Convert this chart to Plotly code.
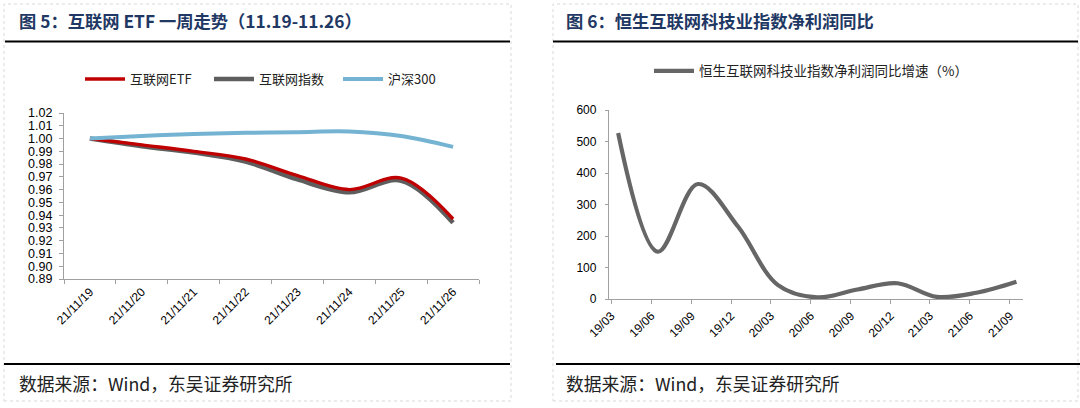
import plotly.graph_objects as go

# ---------------- data ----------------
week_days = ["21/11/19", "21/11/20", "21/11/21", "21/11/22", "21/11/23", "21/11/24", "21/11/25", "21/11/26"]
etf_values = [1.000, 0.995, 0.990, 0.984, 0.971, 0.960, 0.969, 0.937]
index_values = [1.000, 0.994, 0.989, 0.982, 0.968, 0.958, 0.967, 0.934]
hs300_values = [1.000, 1.002, 1.0035, 1.0045, 1.005, 1.0055, 1.002, 0.9935]

quarter_dates = ["2019-03-31", "2019-06-30", "2019-09-30", "2019-12-31", "2020-03-31", "2020-06-30",
                 "2020-09-30", "2020-12-31", "2021-03-31", "2021-06-30", "2021-09-30"]
quarter_ticks = ["2019-03-15", "2019-06-15", "2019-09-15", "2019-12-15", "2020-03-15", "2020-06-15",
                 "2020-09-15", "2020-12-15", "2021-03-15", "2021-06-15", "2021-09-15"]
quarter_labels = ["19/03", "19/06", "19/09", "19/12", "20/03", "20/06", "20/09", "20/12", "21/03", "21/06", "21/09"]
profit_growth = [527, 150, 365, 230, 45, 5, 30, 50, 7, 20, 55]

W, H = 1080, 408
def px(x): return x / W
def py(y): return 1 - y / H

CJK = "Noto Sans CJK SC"
LAT = "Liberation Sans, Arial"
NAVY = "#1F3864"
AXC = "#A0A0A0"

fig = go.Figure()

fig.add_trace(go.Scatter(x=week_days, y=index_values, name="互联网指数", mode="lines",
                         line=dict(color="#5E5E5E", width=4.6, shape="spline"),
                         xaxis="x", yaxis="y", legend="legend", legendrank=2))
fig.add_trace(go.Scatter(x=week_days, y=etf_values, name="互联网ETF", mode="lines",
                         line=dict(color="#C00000", width=3.4, shape="spline"),
                         xaxis="x", yaxis="y", legend="legend", legendrank=1))
fig.add_trace(go.Scatter(x=week_days, y=hs300_values, name="沪深300", mode="lines",
                         line=dict(color="#74B4D2", width=4, shape="spline"),
                         xaxis="x", yaxis="y", legend="legend", legendrank=3))

fig.add_trace(go.Scatter(x=quarter_dates, y=profit_growth, name="恒生互联网科技业指数净利润同比增速（%）",
                         mode="lines", line=dict(color="#666666", width=4.2, shape="spline"),
                         xaxis="x2", yaxis="y2", legend="legend2"))

shapes = []
# panel dashed borders
for x0, x1 in [(4, 511), (553, 1078)]:
    shapes.append(dict(type="rect", xref="paper", yref="paper", x0=px(x0), x1=px(x1), y0=py(401), y1=py(4),
                       line=dict(color="#D9D9D9", width=1, dash="dot"), layer="below"))
# header lines
shapes.append(dict(type="line", xref="paper", yref="paper", x0=px(5), x1=px(510), y0=py(41.5), y1=py(41.5),
                   line=dict(color="black", width=2)))
shapes.append(dict(type="line", xref="paper", yref="paper", x0=px(553), x1=px(1078), y0=py(41.5), y1=py(41.5),
                   line=dict(color="black", width=2)))
# footer lines
shapes.append(dict(type="line", xref="paper", yref="paper", x0=px(4), x1=px(510), y0=py(364), y1=py(364),
                   line=dict(color="black", width=2)))
shapes.append(dict(type="line", xref="paper", yref="paper", x0=px(556), x1=px(1080), y0=py(364), y1=py(364),
                   line=dict(color="black", width=2)))

annotations = [
    dict(text="<b>图 5：互联网 ETF 一周走势（11.19-11.26）</b>", x=px(17), y=py(20), xref="paper", yref="paper",
         xanchor="left", yanchor="middle", showarrow=False, font=dict(family=CJK, size=17.3, color=NAVY)),
    dict(text="<b>图 6：恒生互联网科技业指数净利润同比</b>", x=px(564), y=py(20), xref="paper", yref="paper",
         xanchor="left", yanchor="middle", showarrow=False, font=dict(family=CJK, size=17.3, color=NAVY)),
    dict(text="数据来源：Wind，东吴证券研究所", x=px(17), y=py(383), xref="paper", yref="paper",
         xanchor="left", yanchor="middle", showarrow=False, font=dict(family=CJK, size=17.8, color="#222222")),
    dict(text="数据来源：Wind，东吴证券研究所", x=px(564), y=py(383), xref="paper", yref="paper",
         xanchor="left", yanchor="middle", showarrow=False, font=dict(family=CJK, size=17.8, color="#222222")),
]

fig.update_layout(
    template="none",
    width=W, height=H, margin=dict(l=0, r=0, t=0, b=0, autoexpand=False),
    paper_bgcolor="white", plot_bgcolor="white",
    shapes=shapes, annotations=annotations,
    xaxis=dict(domain=[px(64), px(479)], type="category", range=[-0.5, 7.5], tickson="boundaries",
               ticks="outside", ticklen=4, tickcolor=AXC, showline=True, linecolor=AXC, linewidth=1.3,
               showgrid=False, zeroline=False, tickangle=-45, automargin=False,
               tickfont=dict(family=LAT, size=12, color="black"), anchor="y"),
    yaxis=dict(domain=[py(279), py(113)], range=[0.89, 1.02], dtick=0.01, tick0=0.89, tickformat=".2f",
               ticks="outside", ticklen=4, tickcolor=AXC, showline=True, linecolor=AXC, linewidth=1.3,
               showgrid=False, zeroline=False, ticklabelstandoff=4, automargin=False,
               tickfont=dict(family=LAT, size=12.5, color="black"), anchor="x"),
    xaxis2=dict(domain=[px(609), px(1023)], type="date", range=["2019-03-10", "2021-10-15"],
                tickmode="array", tickvals=quarter_ticks, ticktext=quarter_labels,
                ticks="outside", ticklen=4, tickcolor=AXC, showline=True, linecolor=AXC, linewidth=1.3,
                showgrid=False, zeroline=False, tickangle=-45, automargin=False,
                tickfont=dict(family=LAT, size=12, color="black"), anchor="y2"),
    yaxis2=dict(domain=[py(299), py(110)], range=[0, 600], dtick=100,
                ticks="outside", ticklen=3, tickcolor=AXC, showline=True, linecolor=AXC, linewidth=1.3,
                showgrid=False, zeroline=False, ticklabelstandoff=6, automargin=False,
                tickfont=dict(family=LAT, size=12, color="black"), anchor="x2"),
    legend=dict(orientation="h", x=px(80), y=py(79), xanchor="left", yanchor="middle",
                font=dict(family=CJK, size=13, color="#222222"), bgcolor="rgba(0,0,0,0)",
                itemwidth=40, entrywidth=74, entrywidthmode="pixels", traceorder="normal"),
    legend2=dict(orientation="h", x=px(649), y=py(71), xanchor="left", yanchor="middle",
                 font=dict(family=CJK, size=13.5, color="#222222"), bgcolor="rgba(0,0,0,0)",
                 itemwidth=40),
    showlegend=True,
)

fig.write_html("out.html", config={"displayModeBar": False},
               post_script="document.body.style.margin='0px';document.body.style.overflow='hidden';")
